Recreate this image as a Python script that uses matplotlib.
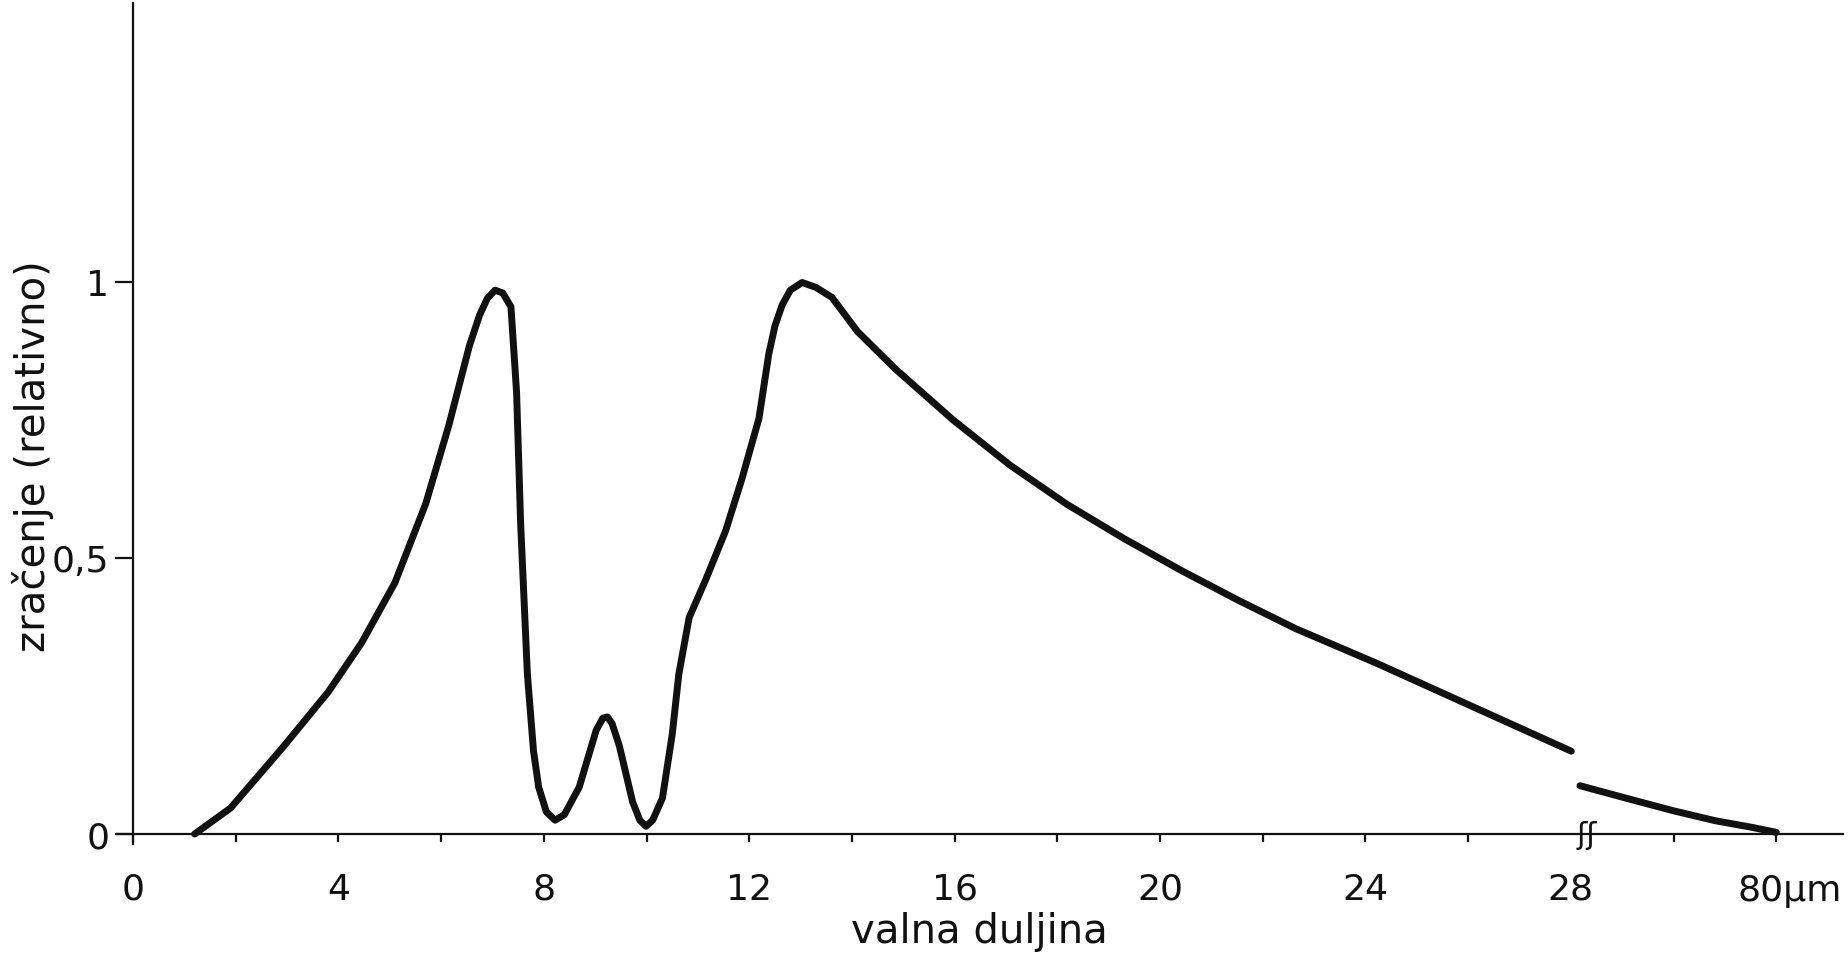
import numpy as np
import matplotlib
matplotlib.use('Agg')
import matplotlib.pyplot as plt

# emission curve, wavelength in um (first part, linear up to 28)
wl_a = [1.2, 1.9, 2.9, 3.8, 4.45, 5.1, 5.7, 6.15, 6.55, 6.75, 6.9, 7.05, 7.2, 7.36,
        7.47, 7.55, 7.68, 7.8, 7.9, 8.05, 8.22, 8.4, 8.69, 9.02, 9.15, 9.24, 9.33,
        9.47, 9.73, 9.87, 9.99, 10.12, 10.31, 10.5, 10.63, 10.83, 11.15, 11.54,
        11.86, 12.19, 12.38, 12.5, 12.64, 12.8, 13.03, 13.3, 13.61, 14.11, 14.85,
        15.97, 17.08, 18.19, 19.3, 20.42, 21.53, 22.64, 24.2, 26.2, 28.1]
rad_a = [0.0, 0.047, 0.155, 0.257, 0.346, 0.455, 0.598, 0.74, 0.884, 0.94, 0.97, 0.985,
         0.98, 0.955, 0.80, 0.56, 0.29, 0.15, 0.085, 0.04, 0.025, 0.035, 0.085, 0.188,
         0.21, 0.212, 0.2, 0.16, 0.058, 0.025, 0.014, 0.025, 0.065, 0.18, 0.29, 0.392,
         0.46, 0.549, 0.644, 0.753, 0.869, 0.92, 0.958, 0.985, 0.999, 0.99, 0.972,
         0.91, 0.842, 0.75, 0.668, 0.597, 0.535, 0.477, 0.423, 0.372, 0.31, 0.226, 0.15]

# tail after the axis break (28 .. 80 um)
wl_b = [30.3, 41.4, 54.0, 64.6, 73.9, 80.0]
rad_b = [0.0875, 0.066, 0.042, 0.024, 0.012, 0.003]

x_major = [0, 4, 8, 12, 16, 20, 24, 28, 80]
x_major_lbl = ['0', '4', '8', '12', '16', '20', '24', '28', '']
x_minor = [2, 6, 10, 14, 18, 22, 26, 54]
y_ticks = [0, 0.5, 1]
y_tick_lbl = ['0', '0,5', '1']

BREAK = 28.0
SQUEEZE = 13.0   # 52 um after the break take the room of 4

def fwd(x):
	x = np.asarray(x, dtype=float)
	return np.where(x <= BREAK, x, BREAK+(x-BREAK)/SQUEEZE)

def inv(p):
	p = np.asarray(p, dtype=float)
	return np.where(p <= BREAK, p, BREAK+(p-BREAK)*SQUEEZE)

plt.rcParams['font.family'] = ['DejaVu Sans']
FS_TICK = 26
FS_LBL = 29
INK = '#111111'

fig = plt.figure(figsize=(18.49, 9.54), dpi=100)
ax = fig.add_axes([0.0633, 0.1143, 0.9335, 0.8814])
ax.set_xscale('function', functions=(fwd, inv))
ax.set_xlim(-0.31, 96.9)
ax.set_ylim(-0.018, 1.505)

ax.plot(wl_a, rad_a, color=INK, lw=5, solid_capstyle='round', solid_joinstyle='round')
ax.plot(wl_b, rad_b, color=INK, lw=5, solid_capstyle='round', solid_joinstyle='round')

for s in ['top', 'right']:
	ax.spines[s].set_visible(False)
ax.spines['left'].set_position(('data', 0))
ax.spines['bottom'].set_position(('data', 0))
for s in ['left', 'bottom']:
	ax.spines[s].set_linewidth(1.6)
	ax.spines[s].set_color(INK)

ax.set_xticks(x_major)
ax.set_xticklabels(x_major_lbl, fontsize=FS_TICK)
ax.set_xticks(x_minor, minor=True)
ax.tick_params(axis='x', which='both', direction='out', length=6, width=1.6, pad=21, colors=INK)
ax.xaxis.get_major_ticks()[7].tick1line.set_visible(False)

ax.set_yticks(y_ticks)
ax.set_yticklabels(y_tick_lbl, fontsize=FS_TICK)
ax.tick_params(axis='y', direction='out', length=13, width=1.6, pad=4, colors=INK)

# break marks on the axis
ax.text(32.0, 0, '\u0283\u0283', fontsize=22, ha='center', va='center', color=INK)
# last tick label with its unit, kept inside the figure
ax.annotate('80\u03bcm', xy=(80, 0), xytext=(47, -40), textcoords='offset points',
            fontsize=FS_TICK, ha='right', va='center', color=INK)

fig.text(979/1849, 1-943/954, 'valna duljina', fontsize=FS_LBL, ha='center', va='baseline', color=INK)
fig.text(33/1849, 1-456/954, 'zračenje (relativno)', fontsize=FS_LBL, rotation=90,
         ha='center', va='center', color=INK)

fig.savefig('out.png', dpi=100, facecolor='white')
